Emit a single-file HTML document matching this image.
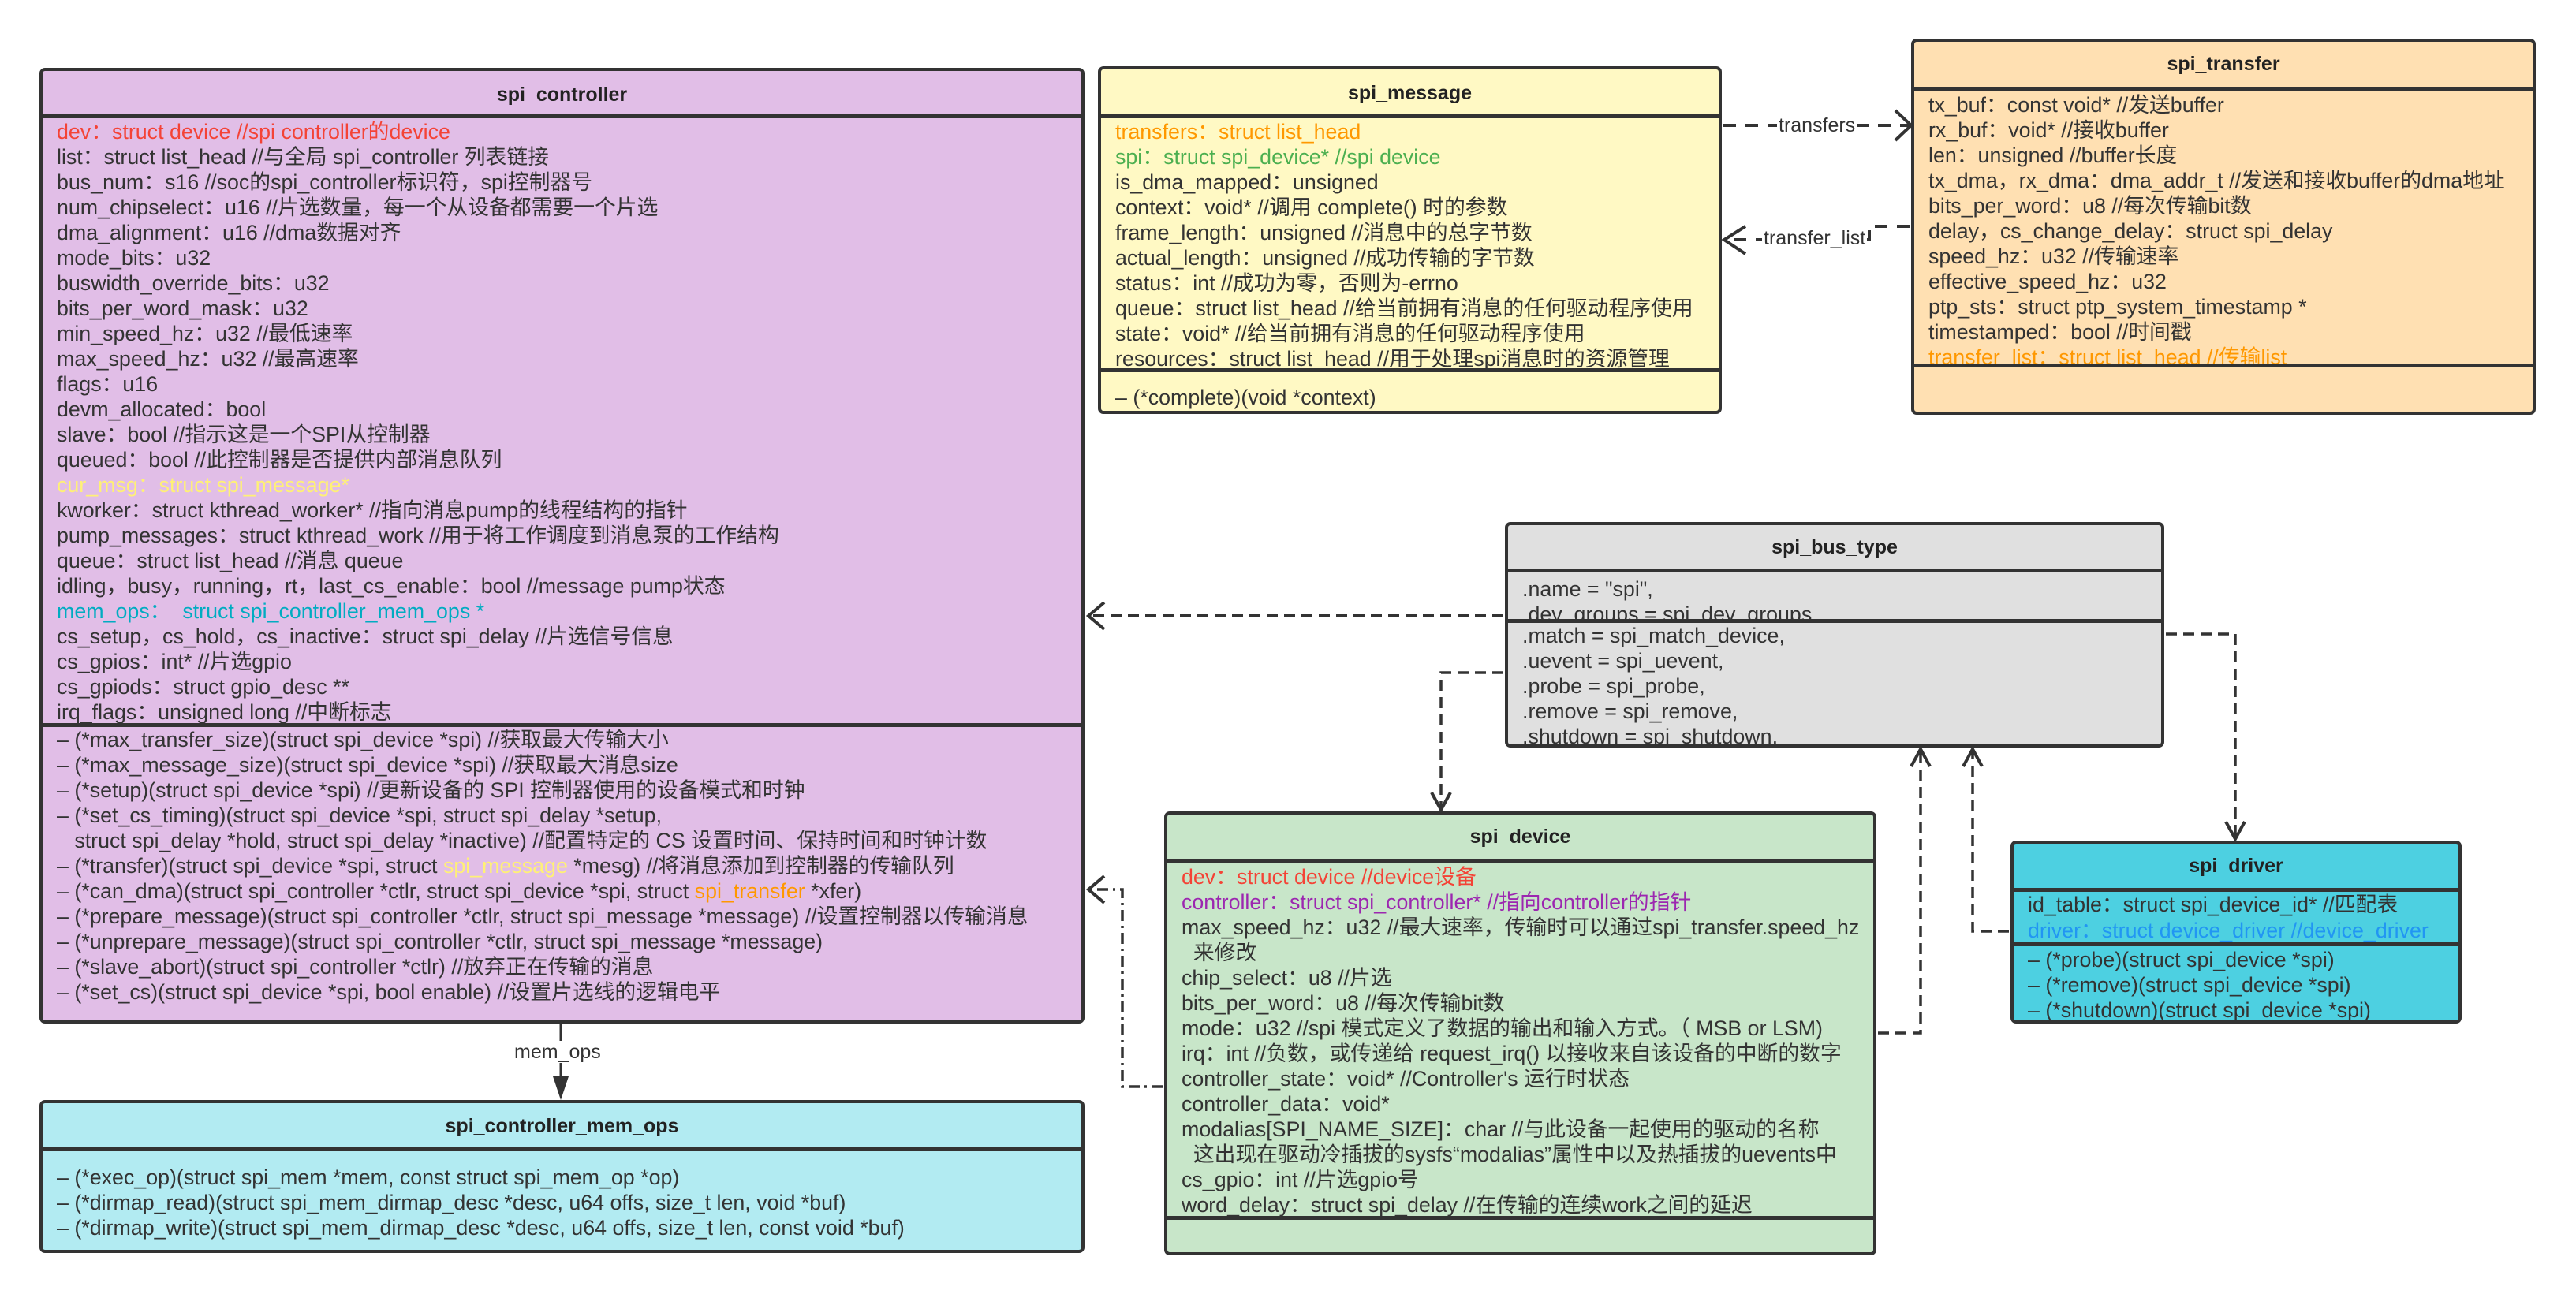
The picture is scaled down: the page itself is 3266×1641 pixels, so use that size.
<!DOCTYPE html>
<html><head><meta charset="utf-8">
<style>
*{margin:0;padding:0;box-sizing:border-box}
body{width:3266px;height:1641px;background:#fff;position:relative;overflow:hidden;font-family:"Liberation Sans","Noto Sans CJK SC",sans-serif;color:#333;font-size:26.8px}
.box{position:absolute;border:4px solid #333;border-radius:7px;overflow:hidden}
.t{position:absolute;left:0;right:0;text-align:center;font-weight:bold;font-size:25px;color:#222}
.hl{position:absolute;left:0;right:0;height:5px;background:#333}
.sec{position:absolute;left:0;right:0;overflow:hidden;padding-left:18px;line-height:32px;white-space:nowrap}
.r{color:#f44336}.y{color:#fff176}.c{color:#00acc1}.o{color:#ff9800}.g{color:#4caf50}.p{color:#9c27b0}.b{color:#2196f3}
svg{position:absolute;left:0;top:0}
.lbl{position:absolute;background:#fff;font-size:25px;color:#333;line-height:28px;padding:0 2px}
</style></head><body>

<div class="box" style="left:50px;top:86px;width:1325px;height:1212px;background:#e1bee7">
 <div class="t" style="top:16px">spi_controller</div>
 <div class="hl" style="top:55px"></div>
 <div class="sec" style="top:60px;height:768px;padding-top:1px">
  <div class="r">dev：struct device //spi controller的device</div>
  <div>list：struct list_head //与全局 spi_controller 列表链接</div>
  <div>bus_num：s16 //soc的spi_controller标识符，spi控制器号</div>
  <div>num_chipselect：u16 //片选数量，每一个从设备都需要一个片选</div>
  <div>dma_alignment：u16 //dma数据对齐</div>
  <div>mode_bits：u32</div>
  <div>buswidth_override_bits：u32</div>
  <div>bits_per_word_mask：u32</div>
  <div>min_speed_hz：u32 //最低速率</div>
  <div>max_speed_hz：u32 //最高速率</div>
  <div>flags：u16</div>
  <div>devm_allocated：bool</div>
  <div>slave：bool //指示这是一个SPI从控制器</div>
  <div>queued：bool //此控制器是否提供内部消息队列</div>
  <div class="y">cur_msg：struct spi_message*</div>
  <div>kworker：struct kthread_worker* //指向消息pump的线程结构的指针</div>
  <div>pump_messages：struct kthread_work //用于将工作调度到消息泵的工作结构</div>
  <div>queue：struct list_head //消息 queue</div>
  <div>idling，busy，running，rt，last_cs_enable：bool //message pump状态</div>
  <div class="c">mem_ops：&nbsp; struct spi_controller_mem_ops *</div>
  <div>cs_setup，cs_hold，cs_inactive：struct spi_delay //片选信号信息</div>
  <div>cs_gpios：int* //片选gpio</div>
  <div>cs_gpiods：struct gpio_desc **</div>
  <div>irq_flags：unsigned long //中断标志</div>
 </div>
 <div class="hl" style="top:827px"></div>
 <div class="sec" style="top:832px;height:360px;padding-top:0px">
  <div>– (*max_transfer_size)(struct spi_device *spi) //获取最大传输大小</div>
  <div>– (*max_message_size)(struct spi_device *spi) //获取最大消息size</div>
  <div>– (*setup)(struct spi_device *spi) //更新设备的 SPI 控制器使用的设备模式和时钟</div>
  <div>– (*set_cs_timing)(struct spi_device *spi, struct spi_delay *setup,</div>
  <div>&nbsp;&nbsp;&nbsp;struct spi_delay *hold, struct spi_delay *inactive) //配置特定的 CS 设置时间、保持时间和时钟计数</div>
  <div>– (*transfer)(struct spi_device *spi, struct <span class="y">spi_message</span> *mesg) //将消息添加到控制器的传输队列</div>
  <div>– (*can_dma)(struct spi_controller *ctlr, struct spi_device *spi, struct <span class="o">spi_transfer</span> *xfer)</div>
  <div>– (*prepare_message)(struct spi_controller *ctlr, struct spi_message *message) //设置控制器以传输消息</div>
  <div>– (*unprepare_message)(struct spi_controller *ctlr, struct spi_message *message)</div>
  <div>– (*slave_abort)(struct spi_controller *ctlr) //放弃正在传输的消息</div>
  <div>– (*set_cs)(struct spi_device *spi, bool enable) //设置片选线的逻辑电平</div>
 </div>
</div>

<div class="box" style="left:50px;top:1395px;width:1325px;height:194px;background:#b2ebf2">
 <div class="t" style="top:15px">spi_controller_mem_ops</div>
 <div class="hl" style="top:56px"></div>
 <div class="sec" style="top:61px;height:125px;padding-top:17px">
  <div>– (*exec_op)(struct spi_mem *mem, const struct spi_mem_op *op)</div>
  <div>– (*dirmap_read)(struct spi_mem_dirmap_desc *desc, u64 offs, size_t len, void *buf)</div>
  <div>– (*dirmap_write)(struct spi_mem_dirmap_desc *desc, u64 offs, size_t len, const void *buf)</div>
 </div>
</div>

<div class="box" style="left:1392px;top:84px;width:791px;height:441px;background:#fff9c4">
 <div class="t" style="top:16px">spi_message</div>
 <div class="hl" style="top:57px"></div>
 <div class="sec" style="top:62px;height:318px;padding-top:1px">
  <div class="o">transfers：struct list_head</div>
  <div class="g">spi：struct spi_device* //spi device</div>
  <div>is_dma_mapped：unsigned</div>
  <div>context：void* //调用 complete() 时的参数</div>
  <div>frame_length：unsigned //消息中的总字节数</div>
  <div>actual_length：unsigned //成功传输的字节数</div>
  <div>status：int //成功为零，否则为-errno</div>
  <div>queue：struct list_head //给当前拥有消息的任何驱动程序使用</div>
  <div>state：void* //给当前拥有消息的任何驱动程序使用</div>
  <div>resources：struct list_head //用于处理spi消息时的资源管理</div>
 </div>
 <div class="hl" style="top:379px"></div>
 <div class="sec" style="top:384px;height:50px;padding-top:16px">
  <div>– (*complete)(void *context)</div>
 </div>
</div>

<div class="box" style="left:2423px;top:49px;width:792px;height:477px;background:#ffe0b2">
 <div class="t" style="top:14px">spi_transfer</div>
 <div class="hl" style="top:57px"></div>
 <div class="sec" style="top:62px;height:348px;padding-top:2px">
  <div>tx_buf：const void* //发送buffer</div>
  <div>rx_buf：void* //接收buffer</div>
  <div>len：unsigned //buffer长度</div>
  <div>tx_dma，rx_dma：dma_addr_t //发送和接收buffer的dma地址</div>
  <div>bits_per_word：u8 //每次传输bit数</div>
  <div>delay，cs_change_delay：struct spi_delay</div>
  <div>speed_hz：u32 //传输速率</div>
  <div>effective_speed_hz：u32</div>
  <div>ptp_sts：struct ptp_system_timestamp *</div>
  <div>timestamped：bool //时间戳</div>
  <div class="o">transfer_list：struct list_head //传输list</div>
 </div>
 <div class="hl" style="top:408px"></div>
</div>

<div class="box" style="left:1908px;top:662px;width:836px;height:286px;background:#e0e0e0">
 <div class="t" style="top:14px">spi_bus_type</div>
 <div class="hl" style="top:55px"></div>
 <div class="sec" style="top:60px;height:62px;padding-top:5px">
  <div>.name = "spi",</div>
  <div>.dev_groups = spi_dev_groups,</div>
 </div>
 <div class="hl" style="top:119px"></div>
 <div class="sec" style="top:124px;height:155px;padding-top:0px">
  <div>.match = spi_match_device,</div>
  <div>.uevent = spi_uevent,</div>
  <div>.probe = spi_probe,</div>
  <div>.remove = spi_remove,</div>
  <div>.shutdown = spi_shutdown,</div>
 </div>
</div>

<div class="box" style="left:1476px;top:1029px;width:903px;height:563px;background:#c8e6c9">
 <div class="t" style="top:14px">spi_device</div>
 <div class="hl" style="top:56px"></div>
 <div class="sec" style="top:61px;height:450px;padding-top:2px">
  <div class="r">dev：struct device //device设备</div>
  <div class="p">controller：struct spi_controller* //指向controller的指针</div>
  <div>max_speed_hz：u32 //最大速率，传输时可以通过spi_transfer.speed_hz</div>
  <div>&nbsp;&nbsp;来修改</div>
  <div>chip_select：u8 //片选</div>
  <div>bits_per_word：u8 //每次传输bit数</div>
  <div>mode：u32 //spi 模式定义了数据的输出和输入方式。（ MSB or LSM)</div>
  <div>irq：int //负数，或传递给 request_irq() 以接收来自该设备的中断的数字</div>
  <div>controller_state：void* //Controller's 运行时状态</div>
  <div>controller_data：void*</div>
  <div>modalias[SPI_NAME_SIZE]：char //与此设备一起使用的驱动的名称</div>
  <div>&nbsp;&nbsp;这出现在驱动冷插拔的sysfs“modalias”属性中以及热插拔的uevents中</div>
  <div>cs_gpio：int //片选gpio号</div>
  <div>word_delay：struct spi_delay //在传输的连续work之间的延迟</div>
 </div>
 <div class="hl" style="top:509px"></div>
</div>

<div class="box" style="left:2549px;top:1066px;width:572px;height:232px;background:#4dd0e1">
 <div class="t" style="top:14px">spi_driver</div>
 <div class="hl" style="top:56px"></div>
 <div class="sec" style="top:61px;height:66px;padding-top:0px;line-height:33px">
  <div>id_table：struct spi_device_id* //匹配表</div>
  <div class="b">driver：struct device_driver //device_driver</div>
 </div>
 <div class="hl" style="top:125px"></div>
 <div class="sec" style="top:130px;height:95px;padding-top:1px">
  <div>– (*probe)(struct spi_device *spi)</div>
  <div>– (*remove)(struct spi_device *spi)</div>
  <div>– (*shutdown)(struct spi_device *spi)</div>
 </div>
</div>

<svg width="3266" height="1641" viewBox="0 0 3266 1641">
 <g fill="none" stroke="#333" stroke-width="4">
  <path d="M2185 159 H2421" stroke-dasharray="16 12"/>
  <path d="M2403 140 L2423 159 L2403 178"/>
  <path d="M2421 287 H2370 V304 H2188" stroke-dasharray="16 12"/>
  <path d="M2213 287 L2186 304 L2213 322"/>
  <path d="M1906 781 H1382" stroke-dasharray="14 8"/>
  <path d="M1400 764 L1380 781 L1400 798"/>
  <path d="M1906 853 H1827 V1025" stroke-dasharray="14 8" stroke-width="3.5"/>
  <path d="M1815 1005 L1827 1027 L1839 1005"/>
  <path d="M2746 804 H2834 V1062" stroke-dasharray="14 8" stroke-width="3.5"/>
  <path d="M2822 1042 L2834 1064 L2846 1042"/>
  <path d="M2381 1310 H2435 V952" stroke-dasharray="14 8" stroke-width="3.5"/>
  <path d="M2423 972 L2435 950 L2447 972"/>
  <path d="M2547 1181 H2501 V952" stroke-dasharray="14 8" stroke-width="3.5"/>
  <path d="M2489 972 L2501 950 L2513 972"/>
  <path d="M1474 1378 H1423 V1128 H1382" stroke-dasharray="14 6 3 6" stroke-width="3.5"/>
  <path d="M1400 1111 L1380 1128 L1400 1145"/>
  <path d="M711 1298 V1370" stroke-width="3"/>
 </g>
 <path d="M701 1365 L711 1395 L721 1365 Z" fill="#333"/>
</svg>
<div class="lbl" style="left:2253px;top:145px">transfers</div>
<div class="lbl" style="left:2234px;top:288px">transfer_list</div>
<div class="lbl" style="left:650px;top:1320px">mem_ops</div>
</body></html>
